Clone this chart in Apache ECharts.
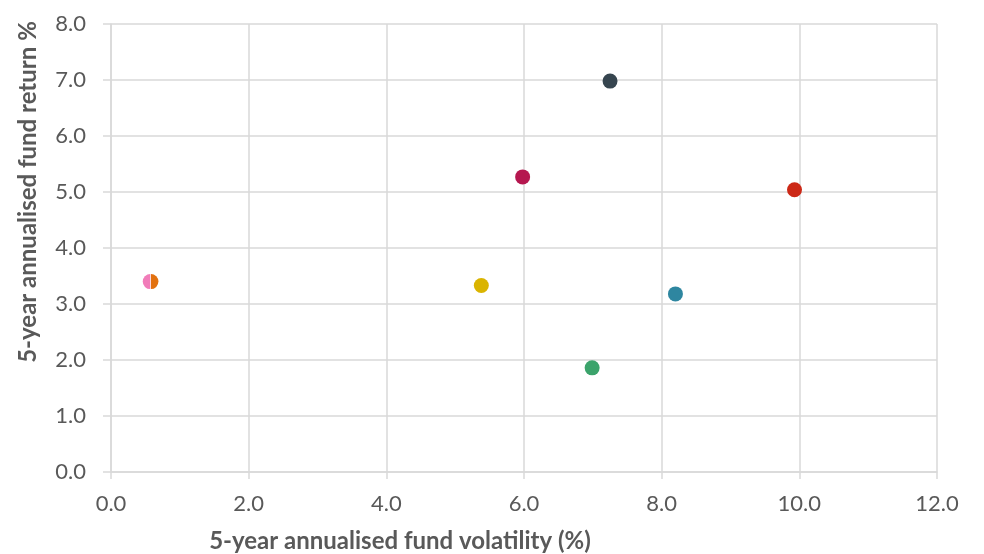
<!DOCTYPE html>
<html>
<head>
<meta charset="utf-8">
<script src="https://cdn.jsdelivr.net/npm/echarts@6/dist/echarts.min.js"></script>
<style>html,body{margin:0;padding:0;background:#fff}#c{width:984px;height:554px}</style>
</head>
<body>
<div id="c"></div>
<script>
const funds = ['Fund A','Fund B','Fund C','Fund D','Fund E','Fund F','Fund G','Fund H'];
const volatility = [0.57, 0.58, 5.38, 5.98, 6.99, 7.25, 8.20, 9.93];
const returns = [3.40, 3.40, 3.33, 5.27, 1.86, 6.98, 3.18, 5.04];
const colors = ['#f17cb9', '#e2710f', '#dab400', '#b5174f', '#3ba36b', '#36454f', '#2e86a0', '#cc2816'];
const xTicks = ['0.0','2.0','4.0','6.0','8.0','10.0','12.0'];
const yTicks = ['0.0','1.0','2.0','3.0','4.0','5.0','6.0','7.0','8.0'];

const leftHalf = 'path://M10,0 A10,10 0 0,0 10,20 Z';
const rightHalf = 'path://M0,0 A10,10 0 0,1 0,20 Z';
const S = 15;

const series = funds.map((f, i) => {
  let sym = 'circle', size = S, off = [0, 0];
  if (i === 0) { sym = leftHalf; size = [S/2, S]; off = [-S/4, 0]; }
  if (i === 1) { sym = rightHalf; size = [S/2, S]; off = [S/4, 0]; }
  return {
    name: f, type: 'scatter',
    data: [[volatility[i], returns[i]]],
    symbol: sym, symbolSize: size, symbolOffset: off,
    itemStyle: { color: colors[i], opacity: 1 }
  };
});

const chart = echarts.init(document.getElementById('c'), null, {renderer: 'canvas'});
const gridColor = '#d9d9d9';
const font = 'Lato, "Open Sans", sans-serif';
chart.setOption({
  animation: false,
  textStyle: { fontFamily: font },
  grid: { left: 111, right: 47, top: 24, bottom: 82 },
  xAxis: {
    type: 'value', min: 0, max: 12, interval: 2,
    axisLine: { show: true, lineStyle: { color: gridColor, width: 1.5 } },
    axisTick: { show: true, length: 7, lineStyle: { color: gridColor, width: 1.5 } },
    splitLine: { show: true, lineStyle: { color: gridColor, width: 1.5 } },
    axisLabel: { color: '#595959', fontSize: 22, fontFamily: font, margin: 21,
      formatter: (v) => xTicks[Math.round(v / 2)] }
  },
  yAxis: {
    type: 'value', min: 0, max: 8, interval: 1,
    axisLine: { show: true, lineStyle: { color: gridColor, width: 1.5 } },
    axisTick: { show: true, length: 8, lineStyle: { color: gridColor, width: 1.5 } },
    splitLine: { show: true, lineStyle: { color: gridColor, width: 1.5 } },
    axisLabel: { color: '#595959', fontSize: 22, fontFamily: font, margin: 25,
      formatter: (v) => yTicks[Math.round(v)] }
  },
  graphic: [
    { type: 'text', x: 400, y: 541,
      style: { text: '5-year annualised fund volatility (%)', fill: '#595959',
        font: 'bold 24px ' + font, textAlign: 'center', textVerticalAlign: 'middle' } },
    { type: 'text', x: 28, y: 192, rotation: Math.PI / 2,
      style: { text: '5-year annualised fund return %', fill: '#595959',
        font: 'bold 24px ' + font, textAlign: 'center', textVerticalAlign: 'middle' } }
  ],
  series: series
});
</script>
</body>
</html>
